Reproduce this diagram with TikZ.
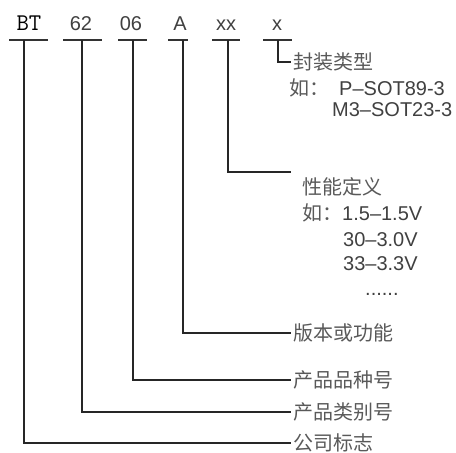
\documentclass[tikz,border=0pt]{standalone}
\usepackage{fontspec}
\setmainfont{Liberation Sans}
\newfontfamily\cjk{Noto Sans CJK SC}
\usetikzlibrary{positioning}

\tikzset{
  code/.style={anchor=base, inner sep=0pt, font=\fontsize{20}{20}\selectfont, text=black!75},
  bar/.style={line width=2.5pt, black!80},
  stem/.style={line width=1.6pt, black!85},
  desc/.style={anchor=west, inner sep=2pt, font=\fontsize{20}{20}\selectfont\cjk, text=black!65},
  note/.style={anchor=west, inner sep=0pt, font=\fontsize{20}{20}\selectfont, text=black!75}
}

\begin{document}
\begin{tikzpicture}[x=1pt, y=-1pt]
  \useasboundingbox (0,0) rectangle (456,453);

  % part codes along the top
  \node[code, font=\fontsize{24}{24}\selectfont\ttfamily, text=black] (cBT) at (29,30) {BT};
  \node[code] (c62) at (81,30) {62};
  \node[code] (c06) at (131,30) {06};
  \node[code] (cA) at (180,30) {A};
  \node[code] (cxx) at (226,30) {xx};
  \node[code] (cx) at (277,30) {x};

  % bars under the codes
  \draw[bar] (9,40) -- (48,40);
  \draw[bar] (63,40) -- (102,40);
  \draw[bar] (118,40) -- (147,40);
  \draw[bar] (168,40) -- (188,40);
  \draw[bar] (212,40) -- (240,40);
  \draw[bar] (263,40) -- (292,40);

  % where the stems leave the bars
  \coordinate (sBT) at (24,40);
  \coordinate (s62) at (82,40);
  \coordinate (s06) at (133,40);
  \coordinate (sA) at (183,40);
  \coordinate (sxx) at (228,40);
  \coordinate (sx) at (278,40);
  \coordinate (exx) at (291,172);

  % package type
  \node[desc] (dx) at (291,62) {封装类型};
  \node[note] (px1) at (289,88) {{\cjk\color{black!65}如：}\hspace{10pt}P–SOT89-3};
  \node[note] (px2) at (332,110) {M3–SOT23-3};

  % voltage
  \node[desc] (dxx) at (300,187) {性能定义};
  \node[note] (pxx1) at (302,213) {{\cjk\color{black!65}如：}1.5–1.5V};
  \node[note] (pxx2) at (343,240) {30–3.0V};
  \node[note] (pxx3) at (343,264) {33–3.3V};
  \node[note] (pxx4) at (365,294) {......};

  % the other meanings
  \node[desc] (dA) at (291,333) {版本或功能};
  \node[desc] (d06) at (291,380) {产品品种号};
  \node[desc] (d62) at (291,412) {产品类别号};
  \node[desc] (dBT) at (291,443) {公司标志};

  % stems down and across
  \draw[stem] (sx) |- (dx.west);
  \draw[stem] (sxx) |- (exx);
  \draw[stem] (sA) |- (dA.west);
  \draw[stem] (s06) |- (d06.west);
  \draw[stem] (s62) |- (d62.west);
  \draw[stem] (sBT) |- (dBT.west);
\end{tikzpicture}
\end{document}
